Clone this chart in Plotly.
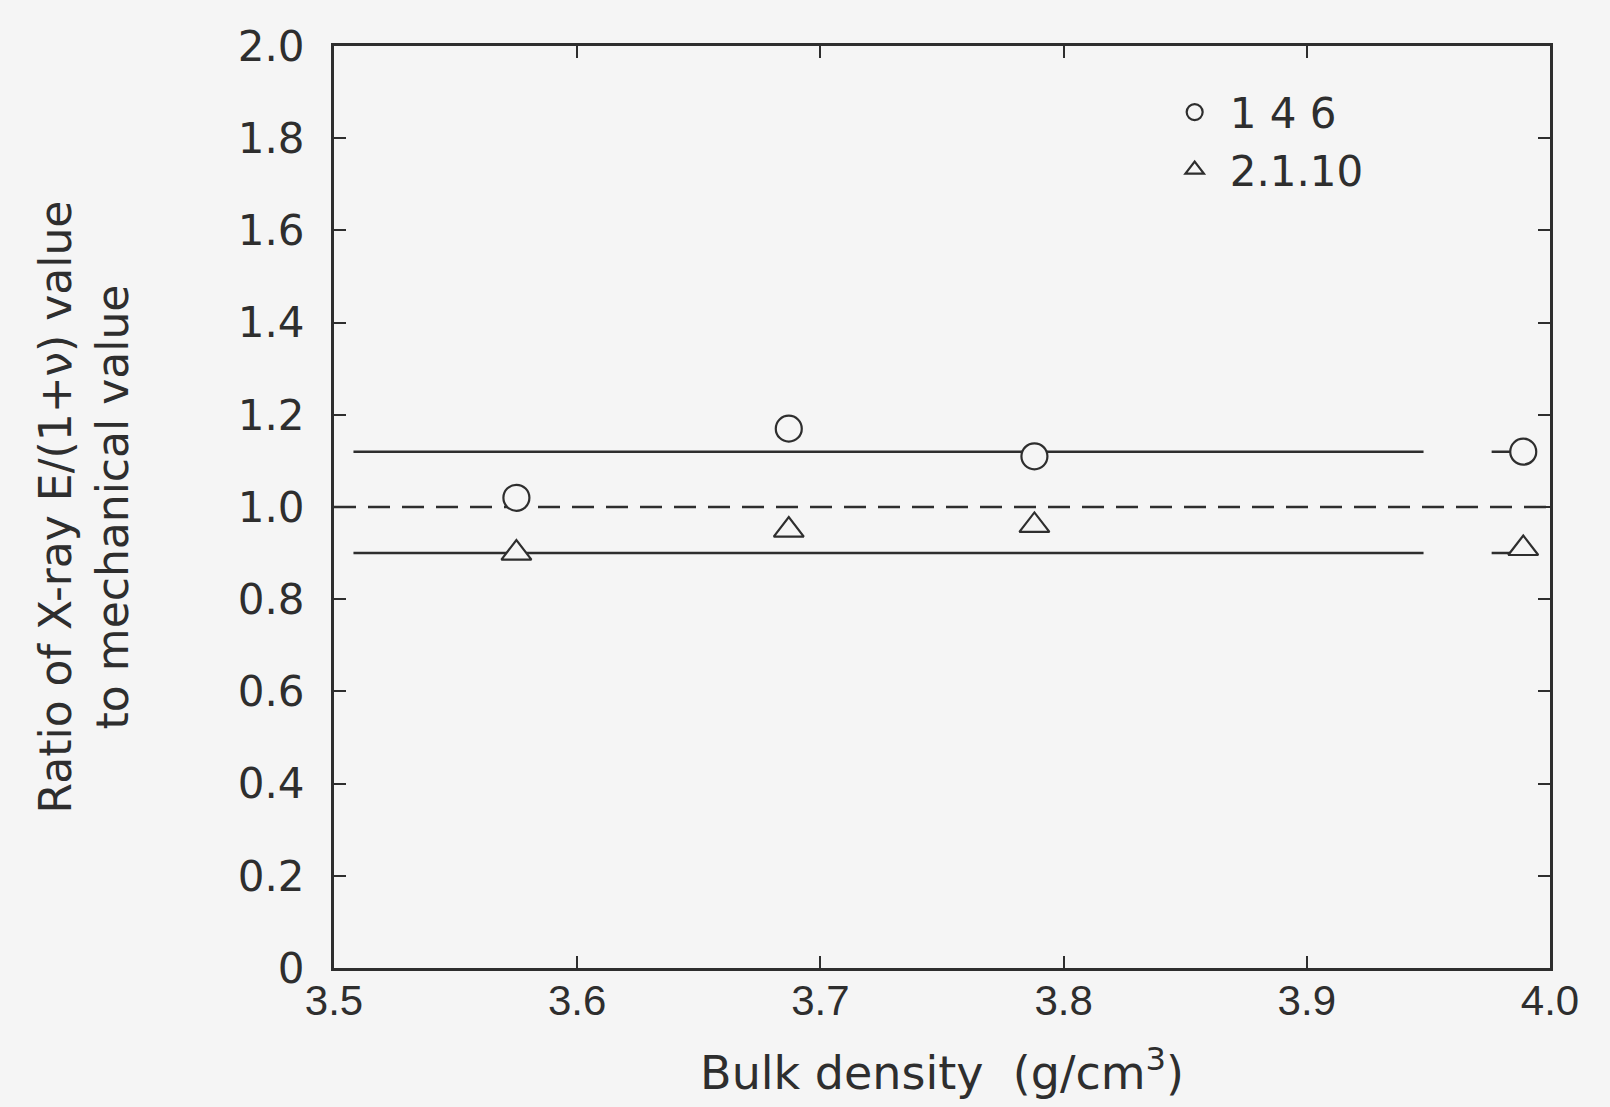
import plotly.graph_objects as go

# Data
density = [3.575, 3.687, 3.788, 3.989]
ratio_146 = [1.02, 1.17, 1.11, 1.12]
ratio_2110 = [0.90, 0.95, 0.96, 0.91]

fit_x = [3.508, 3.948]
fit_146 = [1.12, 1.12]
fit_2110 = [0.90, 0.90]
stub_x = [3.976, 3.99]
stub_146 = [1.12, 1.12]
stub_2110 = [0.90, 0.90]
ref_x = [3.5, 4.0]
ref_y = [1.0, 1.0]

x_ticks = [3.5, 3.6, 3.7, 3.8, 3.9, 4.0]
x_labels = ["3.5", "3.6", "3.7", "3.8", "3.9", "4.0"]
y_ticks = [0, 0.2, 0.4, 0.6, 0.8, 1.0, 1.2, 1.4, 1.6, 1.8, 2.0]
y_labels = ["0", "0.2", "0.4", "0.6", "0.8", "1.0", "1.2", "1.4", "1.6", "1.8", "2.0"]

ink = "#2e2e2e"
bg = "#f5f5f5"
font = "DejaVu Sans"
narrow = "Liberation Sans Narrow, Liberation Sans"

fig = go.Figure()
line_style = dict(color=ink, width=2.5)
fig.add_trace(go.Scatter(x=ref_x, y=ref_y, mode="lines",
                         line=dict(color=ink, width=2.5, dash="22px,12px"), showlegend=False))
fig.add_trace(go.Scatter(x=fit_x, y=fit_146, mode="lines", line=line_style, showlegend=False))
fig.add_trace(go.Scatter(x=fit_x, y=fit_2110, mode="lines", line=line_style, showlegend=False))
fig.add_trace(go.Scatter(x=stub_x, y=stub_146, mode="lines", line=line_style, showlegend=False))
fig.add_trace(go.Scatter(x=stub_x, y=stub_2110, mode="lines", line=line_style, showlegend=False))
fig.add_trace(go.Scatter(x=density, y=ratio_146, mode="markers", name="1 4 6",
                         marker=dict(symbol="circle", size=26, color=bg, line=dict(color=ink, width=2.2))))
fig.add_trace(go.Scatter(x=density, y=ratio_2110, mode="markers", name="2.1.10",
                         marker=dict(symbol="triangle-up", size=26, color=bg, line=dict(color=ink, width=2.2))))

axis_common = dict(showline=True, linecolor=ink, linewidth=3, mirror="ticks",
                   ticks="inside", ticklen=12, tickwidth=2, tickcolor=ink,
                   showgrid=False, zeroline=False)

fig.update_xaxes(range=[3.5, 4.0], tickvals=x_ticks, ticktext=x_labels,
                 ticklabelstandoff=-6,
                 tickfont=dict(family=narrow, size=42, color=ink),
                 title=dict(text="Bulk density  (g/cm<sup>3</sup>)", font=dict(family=font, size=46, color=ink),
                            standoff=34),
                 **axis_common)
fig.update_yaxes(range=[0, 2.0], tickvals=y_ticks, ticktext=y_labels,
                 ticklabelstandoff=18,
                 tickfont=dict(family=font, size=42, color=ink),
                 title=dict(text="Ratio of X-ray E/(1+\u03bd) value<br>to mechanical value",
                            font=dict(family=font, size=44, color=ink), standoff=96),
                 **axis_common)

fig.update_layout(
    width=1610, height=1107,
    margin=dict(l=334, r=60, t=46, b=139),
    paper_bgcolor=bg, plot_bgcolor=bg,
    legend=dict(x=0.679, y=0.965, xanchor="left", yanchor="top",
                bgcolor="rgba(0,0,0,0)", font=dict(family=font, size=42, color=ink),
                itemsizing="trace", itemwidth=60, tracegroupgap=0),
    font=dict(family=font, color=ink),
)

fig.write_html("out.html")
